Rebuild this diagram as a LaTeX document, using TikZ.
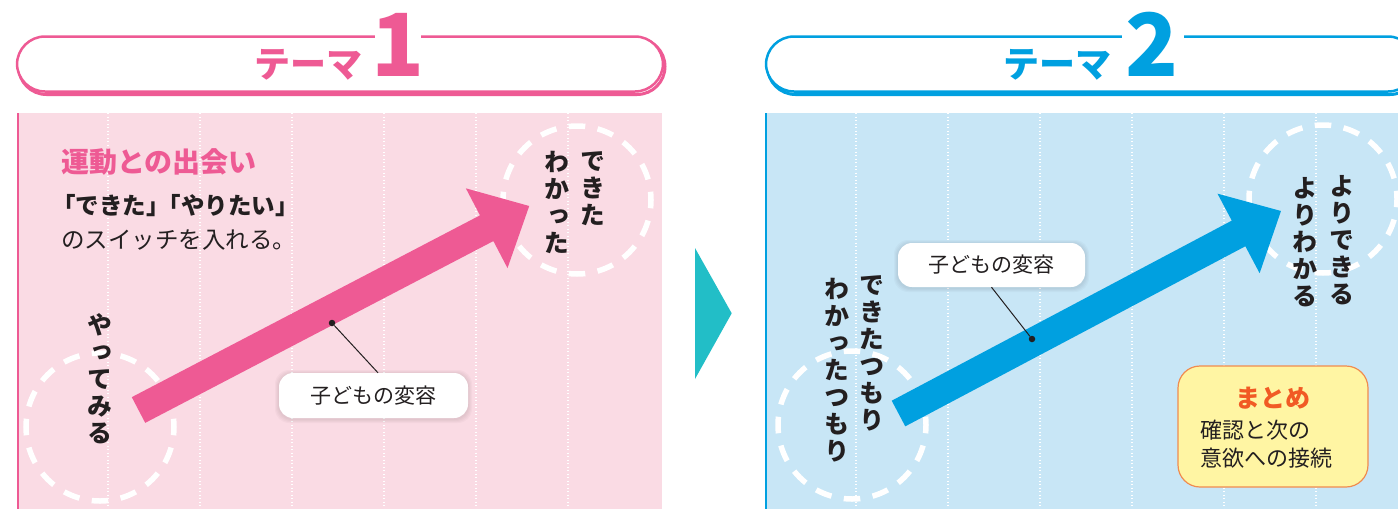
\documentclass[tikz,border=0pt]{standalone}
\usepackage{fontspec}
\setmainfont{Noto Sans CJK JP}
\newfontfamily\jp{Noto Sans CJK JP}
\newfontfamily\jpv[RawFeature=+vert]{Noto Sans CJK JP}
\definecolor{pinkm}{HTML}{EE5A94}
\definecolor{pinkbg}{HTML}{FADBE4}
\definecolor{bluem}{HTML}{00A0E0}
\definecolor{bluebg}{HTML}{C8E6F6}
\definecolor{tealc}{HTML}{22BEC7}
\definecolor{textdark}{HTML}{231F20}
\definecolor{yellowbg}{HTML}{FFF5A3}
\definecolor{orangeb}{HTML}{F08C50}
\definecolor{oranget}{HTML}{F15A24}
\begin{document}
\begin{tikzpicture}[x=1pt,y=-1pt,
  dotline/.style={white,line width=1.3pt,dash pattern=on 1.3pt off 2.2pt},
  dashcirc/.style={white,line width=5.5pt,dash pattern=on 16.5pt off 12.56pt,dash phase=8.25pt},
  vtext/.style={font=\jpv\bfseries\fontsize{25}{27}\selectfont,align=center,inner sep=0pt,text=textdark,anchor=north},
  callout/.style={fill=white,rounded corners=14pt,minimum width=189pt,minimum height=45pt,inner sep=0pt,
    font=\jp\fontsize{21}{21}\selectfont,text=textdark},
  leader/.style={textdark,line width=1pt},
  dotmark/.style={circle,fill=textdark,inner sep=0pt,minimum size=6.5pt},
  headtext/.style={font=\jp\bfseries\fontsize{36}{36}\selectfont,inner sep=0pt},
  digit/.style={font=\jp\bfseries\fontsize{87}{87}\selectfont,inner sep=0pt}
]
\clip (0,0) rectangle (1398,509);
\fill[white] (0,0) rectangle (1398,509);

% panels
\fill[pinkbg] (17,113) rectangle (662,509);
\foreach \x in {108,200,...,568} \draw[dotline] (\x,113) -- (\x,509);
\draw[pinkm,line width=2.5pt] (18,113) -- (18,509);
\fill[bluebg] (765,113) rectangle (1398,509);
\foreach \x in {856,948,...,1316} \draw[dotline] (\x,113) -- (\x,509);
\draw[bluem,line width=2.5pt] (766,113) -- (766,509);

% separator triangle
\fill[tealc] (695,248) -- (731.7,313.3) -- (695,379) -- cycle;

% headers
\draw[pinkm,line width=3pt,rounded corners=28pt] (18.5,38.5) rectangle (665,94.5);
\draw[pinkm,line width=2.5pt,fill=white,rounded corners=28pt] (17,36.5) rectangle (663,91.5);
\fill[white] (375,30) rectangle (421,43);
\node[headtext,text=pinkm] (t1) at (308.5,65) {テーマ};
\node[digit,text=pinkm] (n1) at (398,45) {1};

\draw[bluem,line width=3pt,rounded corners=28pt] (767.5,38.5) rectangle (1418,94.5);
\draw[bluem,line width=2.5pt,fill=white,rounded corners=28pt] (766,36.5) rectangle (1416,91.5);
\fill[white] (1122,30) rectangle (1184,43);
\node[headtext,text=bluem] (t2) at (1057.5,65) {テーマ};
\node[digit,text=bluem] (n2) at (1152,44) {2};

% dashed circles
\draw[dashcirc] (100,427) circle[radius=74];
\draw[dashcirc] (577,200) circle[radius=74];
\draw[dashcirc] (852,425) circle[radius=74];
\draw[dashcirc] (1323,199) circle[radius=74];

% arrows
\begin{scope}[shift={(138.5,410)},rotate=27.57]
\fill[pinkm] (0,-14.5) -- (392.8,-14.5) -- (392.8,-45) -- (440.8,0) -- (392.8,45) -- (392.8,14.5) -- (0,14.5) -- cycle;
\end{scope}
\begin{scope}[shift={(898.5,413.5)},rotate=27.9]
\fill[bluem] (0,-14.5) -- (384.8,-14.5) -- (384.8,-45) -- (432.8,0) -- (384.8,45) -- (384.8,14.5) -- (0,14.5) -- cycle;
\end{scope}

% left texts
\node[font=\jp\bfseries\fontsize{28}{28}\selectfont,text=pinkm,anchor=base west,inner sep=0pt] (h1) at (61,172) {運動との出会い};
\node[font=\jp\bfseries\fontsize{23.5}{23.5}\selectfont,text=textdark,anchor=base west,inner sep=0pt] (l1) at (52,214) {「できた」\kern-0.5em「やりたい」};
\node[font=\jp\fontsize{23.5}{23.5}\selectfont,text=textdark,anchor=base west,inner sep=0pt] (l2) at (61,248) {のスイッチを入れる。};

% vertical texts
\node[vtext] (v1) at (100,313) {や\\っ\\て\\み\\る};
\node[vtext] (v2) at (593,151) {で\\き\\た};
\node[vtext] (v3) at (557,151) {わ\\か\\っ\\た};
\node[vtext] (v4) at (872,275) {で\\き\\た\\つ\\も\\り};
\node[vtext] (v5) at (837,278) {わ\\か\\っ\\た\\つ\\も\\り};
\node[vtext] (v6) at (1342,175) {よ\\り\\で\\き\\る};
\node[vtext] (v7) at (1305,177) {よ\\り\\わ\\か\\る};

% callouts
\foreach \s in {1,2,3,4}
  \fill[black,opacity=0.025,rounded corners=14pt] (279-\s,373-\s+1) rectangle (468+\s,418+\s+1);
\foreach \s in {1,2,3,4}
  \fill[black,opacity=0.025,rounded corners=14pt] (898-\s,243-\s+1) rectangle (1085+\s,287+\s+1);
\node[callout] (c1) at (373.5,395.5) {子どもの変容};
\node[callout,minimum width=187pt,minimum height=44pt] (c2) at (991.5,265) {子どもの変容};
\node[dotmark] (d1) at (332,323) {};
\node[dotmark] (d2) at (1032,339) {};
\draw[leader] (d1) -- ([xshift=4.5pt]c1.north);
\draw[leader] (d2) -- (c2.south);

% summary box
\node[fill=yellowbg,draw=orangeb,line width=1.2pt,rounded corners=22pt,minimum width=190pt,minimum height=121pt,inner sep=0pt] (m) at (1273,426.5) {};
\node[font=\jp\bfseries\fontsize{25}{25}\selectfont,text=oranget,inner sep=0pt] (mt) at (1273,398) {まとめ};
\node[font=\jp\fontsize{22}{28}\selectfont,text=textdark,align=left,anchor=west,inner sep=0pt] (mb) at (1200,444) {確認と次の\\意欲への接続};
\end{tikzpicture}
\end{document}
